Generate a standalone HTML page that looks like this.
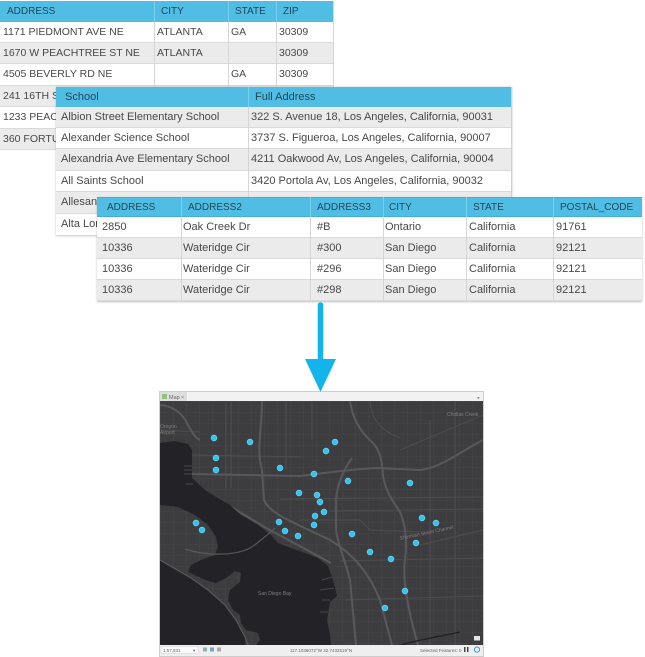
<!DOCTYPE html>
<html><head><meta charset="utf-8">
<style>
*{margin:0;padding:0;box-sizing:border-box}
body{width:645px;height:657px;background:#fff;position:relative;overflow:hidden;font-family:"Liberation Sans",Arial,sans-serif;font-size:11px;color:#484848}
.t{position:absolute;background:#fff;overflow:hidden}
.hd{position:absolute;left:0;top:0;width:100%;background:#50bee4;color:#234656;font-size:10px}
.rw{position:absolute;left:0;width:100%;border-bottom:1px solid #d9d9d9;background:#fff}
.g{background:#ebebeb}
.hd span,.rw span{position:absolute;top:0;white-space:nowrap}
.vl{position:absolute;top:0;bottom:0;width:1px;background:#d6d6d6}
.vh{position:absolute;top:0;width:1px;background:#7ccfec}
.up .rw{font-size:10.5px}
</style></head><body>

<!-- TABLE 1 -->
<div class="t up" style="left:0;top:1px;width:334px;height:149px;border-right:1px solid #d6d6d6">
  <div class="rw" style="top:21px;height:21px;line-height:20px"><span style="left:3px">1171 PIEDMONT AVE NE</span><span style="left:157px">ATLANTA</span><span style="left:231px">GA</span><span style="left:279px">30309</span></div>
  <div class="rw g" style="top:42px;height:21px;line-height:20px"><span style="left:3px">1670 W PEACHTREE ST NE</span><span style="left:157px">ATLANTA</span><span style="left:279px">30309</span></div>
  <div class="rw" style="top:63px;height:22px;line-height:21px"><span style="left:3px">4505 BEVERLY RD NE</span><span style="left:231px">GA</span><span style="left:279px">30309</span></div>
  <div class="rw g" style="top:85px;height:21px;line-height:20px"><span style="left:3px">241 16TH ST NW</span></div>
  <div class="rw" style="top:106px;height:22px;line-height:21px"><span style="left:3px">1233 PEACHTREE ST NE</span></div>
  <div class="rw g" style="top:128px;height:21px;line-height:20px"><span style="left:3px">360 FORTUNE ST</span></div>
  <div class="vl" style="left:154px"></div><div class="vl" style="left:228px"></div><div class="vl" style="left:276px"></div>
  <div class="hd" style="height:21px;line-height:21px"><span style="left:7px">ADDRESS</span><span style="left:161px">CITY</span><span style="left:235px">STATE</span><span style="left:283px">ZIP</span></div>
  <div class="vh" style="left:154px;height:21px"></div><div class="vh" style="left:228px;height:21px"></div><div class="vh" style="left:276px;height:21px"></div>
</div>

<!-- TABLE 2 -->
<div class="t" style="left:56px;top:87px;width:456px;height:149px;border-right:1px solid #d0d0d0;box-shadow:0 0 2px rgba(0,0,0,0.25)">
  <div class="rw g" style="top:20px;height:21px;line-height:20px"><span style="left:5px">Albion Street Elementary School</span><span style="left:195px">322 S. Avenue 18, Los Angeles, California, 90031</span></div>
  <div class="rw" style="top:41px;height:21px;line-height:20px"><span style="left:5px">Alexander Science School</span><span style="left:195px">3737 S. Figueroa, Los Angeles, California, 90007</span></div>
  <div class="rw g" style="top:62px;height:22px;line-height:21px"><span style="left:5px">Alexandria Ave Elementary School</span><span style="left:195px">4211 Oakwood Av, Los Angeles, California, 90004</span></div>
  <div class="rw" style="top:84px;height:21px;line-height:20px"><span style="left:5px">All Saints School</span><span style="left:195px">3420 Portola Av, Los Angeles, California, 90032</span></div>
  <div class="rw g" style="top:105px;height:22px;line-height:21px"><span style="left:5px">Allesandro Elementary School</span></div>
  <div class="rw" style="top:127px;height:22px;line-height:21px"><span style="left:5px">Alta Loma Elementary School</span></div>
  <div class="vl" style="left:192px"></div>
  <div class="hd" style="height:20px;line-height:20px;font-size:11px"><span style="left:9px">School</span><span style="left:199px">Full Address</span></div>
  <div class="vh" style="left:192px;height:20px"></div>
</div>

<!-- TABLE 3 -->
<div class="t" style="left:97px;top:197px;width:545px;height:104px;box-shadow:0 1px 2px rgba(0,0,0,0.25)">
  <div class="rw" style="top:20px;height:21px;line-height:20px"><span style="left:5px">2850</span><span style="left:86px">Oak Creek Dr</span><span style="left:220px">#B</span><span style="left:288px">Ontario</span><span style="left:372px">California</span><span style="left:459px">91761</span></div>
  <div class="rw g" style="top:41px;height:21px;line-height:20px"><span style="left:5px">10336</span><span style="left:86px">Wateridge Cir</span><span style="left:220px">#300</span><span style="left:288px">San Diego</span><span style="left:372px">California</span><span style="left:459px">92121</span></div>
  <div class="rw" style="top:62px;height:21px;line-height:20px"><span style="left:5px">10336</span><span style="left:86px">Wateridge Cir</span><span style="left:220px">#296</span><span style="left:288px">San Diego</span><span style="left:372px">California</span><span style="left:459px">92121</span></div>
  <div class="rw g" style="top:83px;height:21px;line-height:20px"><span style="left:5px">10336</span><span style="left:86px">Wateridge Cir</span><span style="left:220px">#298</span><span style="left:288px">San Diego</span><span style="left:372px">California</span><span style="left:459px">92121</span></div>
  <div class="vl" style="left:84px"></div><div class="vl" style="left:213px"></div><div class="vl" style="left:286px"></div><div class="vl" style="left:369px"></div><div class="vl" style="left:456px"></div>
  <div class="hd" style="height:20px;line-height:19px;border-top:1px solid #3fb0d6;border-bottom:1px solid #3fb0d6"><span style="left:10px">ADDRESS</span><span style="left:91px">ADDRESS2</span><span style="left:220px">ADDRESS3</span><span style="left:292px">CITY</span><span style="left:376px">STATE</span><span style="left:463px">POSTAL_CODE</span></div>
  <div class="vh" style="left:84px;height:20px"></div><div class="vh" style="left:213px;height:20px"></div><div class="vh" style="left:286px;height:20px"></div><div class="vh" style="left:369px;height:20px"></div><div class="vh" style="left:456px;height:20px"></div>
</div>

<svg style="position:absolute;left:0;top:0" width="645" height="657" viewBox="0 0 645 657">
  <defs>
    <pattern id="gp" x="160" y="401" width="13" height="11" patternUnits="userSpaceOnUse">
      <path d="M0 .5H13M.5 0V11" stroke="#424245" stroke-width="1" fill="none"/>
    </pattern>
    <clipPath id="mc"><rect x="160" y="401" width="323" height="244"/></clipPath>
  </defs>

  <!-- window frame -->
  <rect x="159.5" y="391.5" width="324" height="265" fill="#f2f2f2" stroke="#cdcdcd"/>
  <rect x="160" y="392" width="27" height="9" fill="#dedede"/>
  <rect x="162" y="394" width="5" height="5" fill="#8fc27a"/>
  <text x="169" y="399.2" font-family="Liberation Sans, sans-serif" font-size="5.5" fill="#666">Map</text>
  <text x="181" y="399.2" font-family="Liberation Sans, sans-serif" font-size="5.5" fill="#777">×</text>
  <text x="477" y="399.5" font-family="Liberation Sans, sans-serif" font-size="5" fill="#888">▾</text>

  <g clip-path="url(#mc)">
    <rect x="160" y="401" width="323" height="244" fill="#3d3d3f"/>
    <rect x="160" y="401" width="323" height="244" fill="url(#gp)"/>

    <!-- secondary roads -->
    <g stroke="#4c4c4f" stroke-width="1.2" fill="none">
      <path d="M192,455 L300,457"/>
      <path d="M280,499 L483,497"/>
      <path d="M330,511 L483,509"/>
      <path d="M226,401 V488"/>
      <path d="M231,401 V488"/>
      <path d="M286,401 V470"/>
      <path d="M312,401 V440"/>
      <path d="M430,420 V645"/>
      <path d="M340,561 L483,558"/>
      <path d="M345,600 L483,596"/>
      <path d="M420,545 L483,530"/>
      <path d="M400,450 L483,415"/>
      <path d="M160,430 L200,432"/>
      <path d="M300,520 L360,520 L370,530 L420,532"/>
      <path d="M455,401 V645"/>
      <path d="M370,401 C372,420 380,430 400,438"/>
    </g>
    <!-- major roads -->
    <g stroke="#58585b" stroke-width="2.1" fill="none">
      <path d="M350,401 C352,415 358,430 372,442 C380,450 382,460 383,475 C385,490 392,500 400,512 C406,525 407,545 405,560 C402,580 408,610 418,645"/>
      <path d="M192,474 L300,476 C320,474 340,470 377,468 L420,470 C440,468 460,452 483,440"/>
      <path d="M262,401 C262,430 256,450 262,470 L264,500 C270,515 300,525 330,540 C355,555 370,575 380,600 L392,645"/>
      <path d="M352,458 C342,472 337,485 336,500 L336,530 C338,545 345,560 350,580 L356,645"/>
      <path d="M160,405 C172,406 182,412 188,425 C192,432 195,438 200,440"/>
      <path d="M191,483 L268,529 L331,563"/>
    </g>

    <!-- water with Coronado cut out -->
    <path fill="#232227" fill-rule="evenodd" d="M160,443 L175,441 L188,444 L192,450 L192,478 L205,490 L218,498 L230,505 L241,515 L258,525 L271,535 L278,543 L291,548 L305,553 L318,558 L328,566 L333,580 L337,596 L330,602 L327,620 L330,635 L331,645 L160,645 Z
      M160,505 L178,507 L195,515 L208,525 L216,537 L218,547 L215,555 L201,560 L191,565 L188,572 L195,575 L205,580 L216,583 L226,578 L235,571 L241,573 L240,582 L230,590 L228,600 L233,610 L240,615 L241,623 L246,630 L258,633 L260,640 L256,645 L245,645 L245,637 L236,620 L225,605 L208,590 L191,578 L171,567 L160,560 Z"/>
    <!-- channel -->
    <path d="M398,646 C412,641 432,638 460,632" stroke="#222126" stroke-width="1.4" fill="none"/>
    <!-- piers -->
    <g stroke="#48484b" stroke-width="1">
      <path d="M184,466 H192M184,470 H192M184,474 H192M186,484 H193"/>
      <path d="M322,580 L332,577M320,590 L334,588M322,600 L330,600M320,612 L328,612"/>
    </g>
    <!-- strand road & bridge -->
    <path d="M160,560 L191,578 L208,590 L225,605 L236,620 L245,637 L248,645" stroke="#58585b" stroke-width="1.2" fill="none"/>
    <path d="M185,549 C205,556 235,556 250,548 C260,542 268,534 275,528" stroke="#58585b" stroke-width="1.2" fill="none"/>

    <!-- labels -->
    <g font-family="Liberation Sans, sans-serif" font-size="5" fill="#7f7f7f">
      <text x="258" y="595">San Diego Bay</text>
      <text x="400" y="540" transform="rotate(-12 400 540)">Sherman Street Channel</text>
      <text x="447" y="416">Chollas Creek</text>
      <text x="160" y="428">Oregon</text>
      <text x="160" y="434">Airport</text>
    </g>
    <!-- folder icon -->
    <rect x="474" y="636" width="6" height="4.5" fill="#e6e6e6"/>

    <!-- dots -->
    <g fill="#2fc5f3" stroke="#7ddcf8" stroke-width="0.6">
      <circle cx="214" cy="438" r="2.9"/><circle cx="250" cy="442" r="2.9"/><circle cx="335" cy="442" r="2.9"/>
      <circle cx="326" cy="451" r="2.9"/><circle cx="216" cy="458" r="2.9"/><circle cx="216" cy="470" r="2.9"/>
      <circle cx="280" cy="468" r="2.9"/><circle cx="314" cy="474" r="2.9"/><circle cx="348" cy="481" r="2.9"/>
      <circle cx="410" cy="483" r="2.9"/><circle cx="299" cy="493" r="2.9"/><circle cx="317" cy="495" r="2.9"/>
      <circle cx="320" cy="502" r="2.9"/><circle cx="324" cy="512" r="2.9"/><circle cx="315" cy="516" r="2.9"/>
      <circle cx="422" cy="518" r="2.9"/><circle cx="436" cy="523" r="2.9"/><circle cx="196" cy="523" r="2.9"/>
      <circle cx="279" cy="522" r="2.9"/><circle cx="314" cy="525" r="2.9"/><circle cx="202" cy="530" r="2.9"/>
      <circle cx="285" cy="531" r="2.9"/><circle cx="298" cy="536" r="2.9"/><circle cx="352" cy="534" r="2.9"/>
      <circle cx="416" cy="543" r="2.9"/><circle cx="370" cy="552" r="2.9"/><circle cx="391" cy="559" r="2.9"/>
      <circle cx="405" cy="591" r="2.9"/><circle cx="385" cy="608" r="2.9"/>
    </g>
  </g>

  <!-- status bar -->
  <rect x="160" y="645" width="323" height="11" fill="#efefef"/>
  <g font-family="Liberation Sans, sans-serif" font-size="4.5" fill="#666">
    <rect x="161" y="646.5" width="37" height="7" fill="#fafafa" stroke="#d0d0d0" stroke-width="0.5"/>
    <text x="163" y="651.8">1:57,931</text>
    <text x="193" y="651.8">▾</text>
    <rect x="203" y="647.5" width="4" height="4" fill="#9aa"/>
    <rect x="210" y="647.5" width="4" height="4" fill="#7aa6c4"/>
    <rect x="217" y="647.5" width="4" height="4" fill="#aaa"/>
    <text x="290" y="651.8">117.1036072°W 32.7432519°N</text>
    <text x="420" y="651.8">Selected Features: 0</text>
    <rect x="464" y="647" width="1.5" height="5" fill="#444"/><rect x="467" y="647" width="1.5" height="5" fill="#444"/>
    <circle cx="477" cy="649.6" r="2.6" fill="none" stroke="#3a9ad9" stroke-width="1"/>
  </g>

  <!-- arrow -->
  <path d="M320.5,305 V362" stroke="#13b3ec" stroke-width="5.5" stroke-linecap="round"/>
  <polygon points="305,359 336,359 320.5,392" fill="#13b3ec"/>
</svg>
</body></html>
